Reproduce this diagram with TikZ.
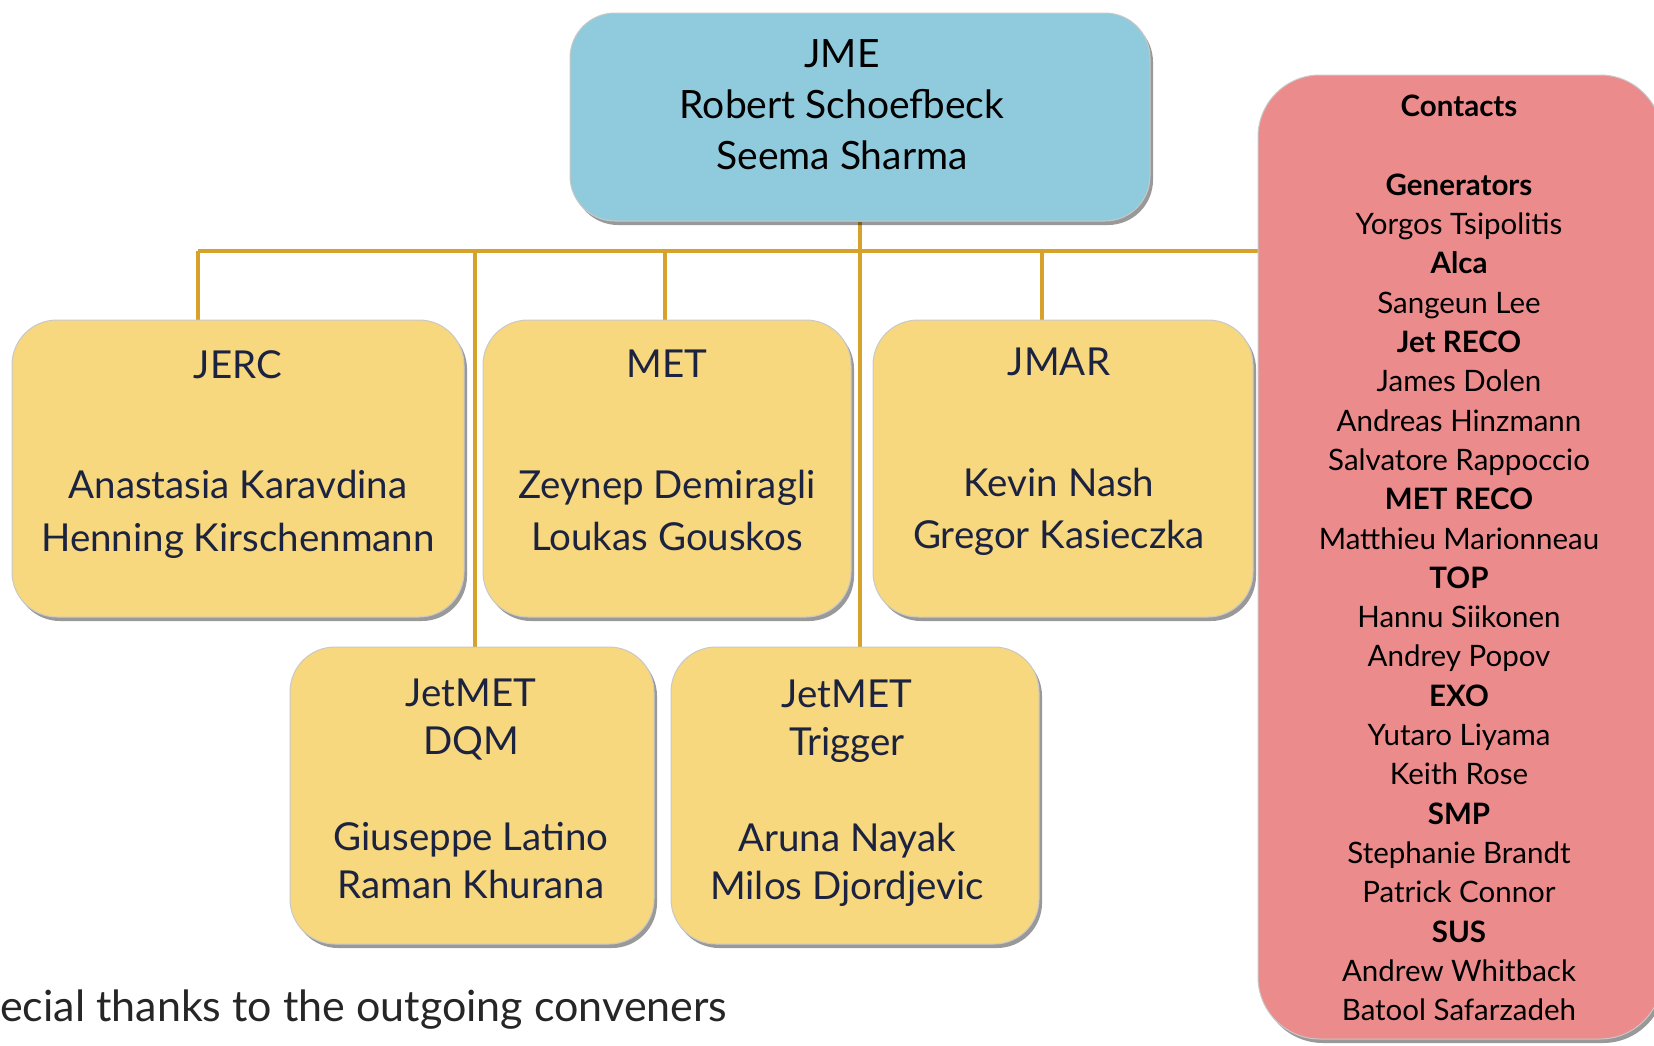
\documentclass[tikz,border=0pt]{standalone}
\usepackage{fontspec}
\setmainfont{Lato}
\usetikzlibrary{shadows}
\definecolor{jmeblue}{HTML}{8FCBDC}
\definecolor{boxyellow}{HTML}{F7D87E}
\definecolor{contactred}{HTML}{EC8B8B}
\definecolor{gold}{HTML}{D6A22B}
\definecolor{navy}{HTML}{1C2340}
\definecolor{boxedge}{HTML}{C8C8C8}
\pgfdeclarelayer{bg}
\pgfsetlayers{bg,main}
\begin{document}
\begin{tikzpicture}[x=1pt,y=-1pt,
  box/.style={draw=boxedge, line width=1pt, rounded corners=45pt, inner sep=0pt,
    drop shadow={shadow xshift=3pt, shadow yshift=-4pt, opacity=0.4, fill=black}},
  ybox/.style={box, fill=boxyellow},
  conn/.style={draw=gold, line width=4.5pt},
  ytext/.style={anchor=north, inner sep=0pt, align=center, text=navy, font=\fontsize{38.5}{52.5}\selectfont},
  ltext/.style={anchor=north, inner sep=0pt, align=center, text=navy, font=\fontsize{38.5}{48}\selectfont},
  ctext/.style={anchor=north, inner sep=0pt, align=center, text=black, font=\fontsize{29.5}{39.3}\selectfont},
]
\useasboundingbox (0,0) rectangle (1654,1045);

% boxes
\node[box, fill=jmeblue, minimum width=580pt, minimum height=208pt] (jme) at (860,117) {};
\node[ybox, minimum width=452pt, minimum height=297pt] (jerc) at (238,468.5) {};
\node[ybox, minimum width=368pt, minimum height=297pt] (met) at (667,468.5) {};
\node[ybox, minimum width=380pt, minimum height=297pt] (jmar) at (1063,468.5) {};
\node[ybox, minimum width=364pt, minimum height=297pt] (dqm) at (472,795.5) {};
\node[ybox, minimum width=368pt, minimum height=297pt] (trig) at (855,795.5) {};
\node[box, fill=contactred, rounded corners=62pt, minimum width=404pt, minimum height=964pt] (contacts) at (1460,557) {};

% texts
\node[anchor=north, inner sep=0pt, align=center, font=\fontsize{39}{51}\selectfont] (jmeT) at (842,39)
  {JME\\Robert Schoefbeck\\Seema Sharma};
\node[ytext] (jercT) at (238,350) {JERC\\[68pt]Anastasia Karavdina\\Henning Kirschenmann};
\node[ytext] (metT) at (667,350) {MET\\[68pt]Zeynep Demiragli\\Loukas Gouskos};
\node[ytext] (jmarT) at (1059,348) {JMAR\\[68pt]Kevin Nash\\Gregor Kasieczka};
\node[ltext] (dqmT) at (471,679) {JetMET\\DQM\\[48pt]Giuseppe Latino\\Raman Khurana};
\node[ltext] (trigT) at (847,680) {JetMET\\Trigger\\[48pt]Aruna Nayak\\Milos Djordjevic};
\node[ctext] (contactsT) at (1459,95)
  {\textbf{Contacts}\\[39.3pt]
   \textbf{Generators}\\Yorgos Tsipolitis\\
   \textbf{Alca}\\Sangeun Lee\\
   \textbf{Jet RECO}\\James Dolen\\Andreas Hinzmann\\Salvatore Rappoccio\\
   \textbf{MET RECO}\\Matthieu Marionneau\\
   \textbf{TOP}\\Hannu Siikonen\\Andrey Popov\\
   \textbf{EXO}\\Yutaro Liyama\\Keith Rose\\
   \textbf{SMP}\\Stephanie Brandt\\Patrick Connor\\
   \textbf{SUS}\\Andrew Whitback\\Batool Safarzadeh};
\node[anchor=west, inner sep=0pt, text={black!85}, font=\fontsize{43}{50}\selectfont] (thanks) at (0,1010)
  {ecial thanks to the outgoing conveners};

% connectors
\begin{pgfonlayer}{bg}
\coordinate (b1) at (198,251);
\coordinate (b2) at (475,251);
\coordinate (b3) at (665,251);
\coordinate (b5) at (1042,251);
\draw[conn] (b1) -- (contacts.west |- b1);
\draw[conn] (jme.south) -- (jme.south |- trig.north);
\draw[conn] (b1) -- (b1 |- jerc.north);
\draw[conn] (b2) -- (b2 |- dqm.north);
\draw[conn] (b3) -- (b3 |- met.north);
\draw[conn] (b5) -- (b5 |- jmar.north);
\end{pgfonlayer}
\end{tikzpicture}
\end{document}
